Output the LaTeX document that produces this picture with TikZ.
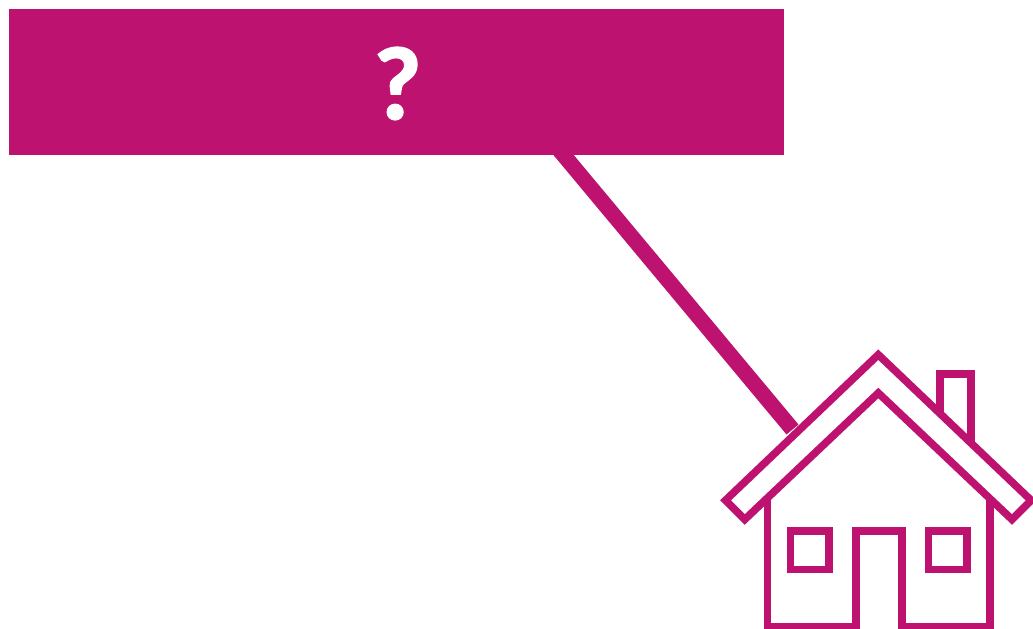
\documentclass[tikz,border=0pt]{standalone}
\usepackage{fontspec}
\setmainfont{Carlito}[BoldFeatures={FakeBold=1.6}]
\definecolor{mag}{HTML}{BE1270}
\tikzset{
  houseline/.style={draw=mag,line width=5.7pt,miter limit=10,line join=miter},
  banner/.style={fill=mag,draw=none,inner sep=0pt,minimum width=581.25pt,minimum height=109.5pt},
  qmark/.style={text=white,font=\fontsize{78}{78}\selectfont\bfseries,inner sep=0pt},
  link/.style={draw=mag,line width=11.7pt}
}
\begin{document}
\begin{tikzpicture}[x=0.75pt,y=-0.75pt]
\useasboundingbox (0,0) rectangle (1033,629);
\coordinate (linkstart) at (559.4,150);
\coordinate (linkend) at (792.5,429.5);
\draw[link] (linkstart) -- (linkend);
\node[banner] (box) at (396.5,82) {};
\node[qmark] (q) at (397.5,83.5) {?};
\coordinate (chl) at (939.7,415);
\coordinate (chtl) at (939.7,373.7);
\coordinate (chtr) at (970.7,373.7);
\coordinate (chr) at (970.7,445);
\draw[houseline] (chl) -- (chtl) -- (chtr) -- (chr);
\draw[houseline] (725.5,500.3) -- (878.3,354.7) -- (1031.1,500.3) -- (1012,519.5) -- (878.3,393) -- (744.7,519.5) -- cycle;
\draw[houseline] (767.5,497) -- (767.5,627) -- (855.7,627) -- (855.7,531) -- (901.7,531) -- (901.7,627) -- (990,627) -- (990,497);
\draw[houseline] (790.3,531) rectangle (829,569.3);
\draw[houseline] (928.3,531) rectangle (967,569.3);
\end{tikzpicture}
\end{document}
